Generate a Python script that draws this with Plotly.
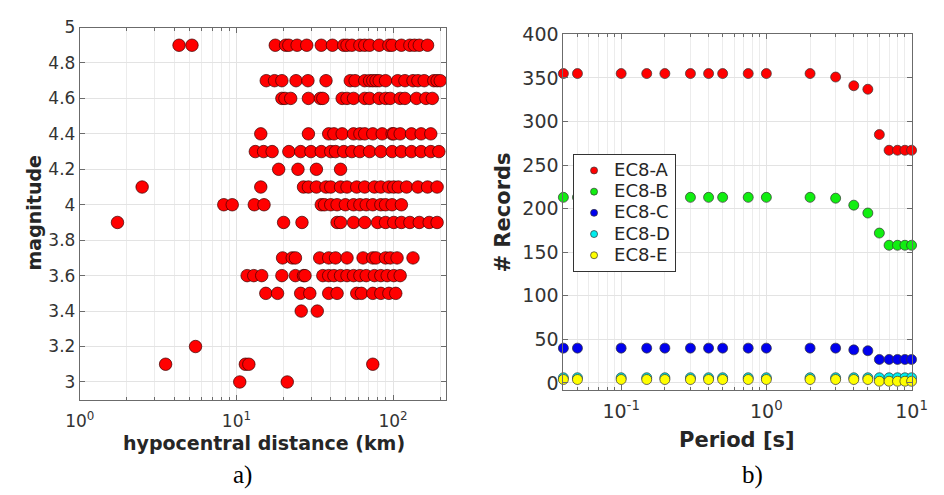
import numpy as np
import plotly.graph_objects as go

# ---------------- panel a) : magnitude vs hypocentral distance ----------------
# hypocentral distances (km) grouped by event magnitude
dist_m49 = [4.3, 5.2, 17.7, 20.6, 21.6, 24.4, 28.1, 34.8, 41.0, 48.4, 50.8, 54.5,
            61.4, 65.9, 70.8, 81.5, 94.0, 98.6, 113, 128, 137, 147, 166]
dist_m47 = [15.5, 17.5, 19.5, 24.0, 28.6, 37.3, 53.3, 57.2, 65.9, 70.8, 74.2, 77.8,
            81.5, 89.5, 107, 119, 134, 144, 158, 182, 191, 200]
dist_m46 = [19.5, 20.4, 22.2, 28.8, 34.3, 35.6, 47.3, 50.8, 55.9, 65.9, 70.8, 81.5,
            89.5, 95.9, 111, 119, 141, 162, 178]
dist_m44 = [14.3, 28.8, 38.8, 41.9, 47.3, 55.9, 61.4, 65.9, 74.2, 85.2, 98.6, 101,
            111, 131, 151, 174]
dist_m43 = [13.2, 14.9, 16.9, 21.6, 25.7, 29.9, 34.8, 40.0, 42.9, 48.4, 54.5, 61.4,
            70.8, 83.5, 98.6, 113, 131, 151, 174, 196]
dist_m42 = [18.6, 24.7, 32.4, 46.2]
dist_m41 = [2.5, 14.3, 26.8, 28.8, 32.4, 37.3, 40.0, 46.2, 50.8, 58.6, 65.9, 76.0,
            83.5, 94.0, 101, 108, 122, 144, 166, 191]
dist_m40 = [8.3, 9.4, 13.0, 15.0, 34.8, 36.5, 40.0, 43.9, 49.6, 55.9, 61.4, 67.4,
            74.2, 83.5, 89.5, 98.6, 113]
dist_m39 = [1.74, 20.0, 26.2, 43.9, 46.2, 55.9, 65.9, 79.6, 89.5, 101, 113, 128,
            147, 170, 191]
dist_m37 = [19.7, 22.7, 23.8, 34.0, 38.8, 42.9, 50.8, 64.3, 74.2, 77.8, 89.5, 96.0,
            106, 134]
dist_m36 = [11.7, 12.9, 14.5, 19.5, 23.8, 26.8, 27.4, 35.6, 38.8, 41.9, 46.2, 50.8,
            55.9, 61.4, 67.4, 76.0, 83.5, 91.7, 101, 111]
dist_m35 = [15.4, 18.3, 25.7, 29.4, 38.8, 43.9, 58.6, 62.8, 74.2, 83.5, 94.0, 104]
dist_m34 = [25.9, 32.8]
dist_m32 = [5.48]
dist_m31 = [3.53, 11.4, 12.0, 74.2]
dist_m30 = [10.5, 21.1]

mag_rows = [
    (4.9, dist_m49), (4.7, dist_m47), (4.6, dist_m46), (4.4, dist_m44),
    (4.3, dist_m43), (4.2, dist_m42), (4.1, dist_m41), (4.0, dist_m40),
    (3.9, dist_m39), (3.7, dist_m37), (3.6, dist_m36), (3.5, dist_m35),
    (3.4, dist_m34), (3.2, dist_m32), (3.1, dist_m31), (3.0, dist_m30),
]
distance = [d for m, ds in mag_rows for d in ds]
magnitude = [m for m, ds in mag_rows for d in ds]

mag_ticks = [3, 3.2, 3.4, 3.6, 3.8, 4, 4.2, 4.4, 4.6, 4.8, 5]
mag_ticktext = ["3", "3.2", "3.4", "3.6", "3.8", "4", "4.2", "4.4", "4.6", "4.8", "5"]

# ---------------- panel b) : number of records per period ----------------
period = [0.04, 0.05, 0.1, 0.15, 0.2, 0.3, 0.4, 0.5, 0.75, 1, 2, 3, 4, 5, 6, 7, 8, 9, 10]
rec_A = [355, 355, 355, 355, 355, 355, 355, 355, 355, 355, 355, 351, 341, 337, 285, 267, 267, 267, 267]
rec_B = [213, 213, 213, 213, 213, 213, 213, 213, 213, 213, 213, 212, 204, 195, 172, 158, 158, 158, 158]
rec_C = [40, 40, 40, 40, 40, 40, 40, 40, 40, 40, 40, 40, 38, 37, 27, 27, 27, 27, 27]
rec_D = [6, 6, 6, 6, 6, 6, 6, 6, 6, 6, 6, 6, 6, 6, 6, 6, 6, 6, 6]
rec_E = [4, 4, 4, 4, 4, 4, 4, 4, 4, 4, 4, 4, 4, 4, 2, 2, 2, 2, 2]
site_names = ["EC8-A", "EC8-B", "EC8-C", "EC8-D", "EC8-E"]
site_colors = ["#ff0000", "#11ee11", "#0000ee", "#00eeee", "#ffff00"]
site_records = [rec_A, rec_B, rec_C, rec_D, rec_E]

rec_ticks = [0, 50, 100, 150, 200, 250, 300, 350, 400]

# ---------------- styling ----------------
W, H = 944, 495
TICK_A = dict(family="DejaVu Sans", size=17, color="#333333")
TICK_B = dict(family="DejaVu Sans", size=19, color="#333333")
TITLE_A = dict(family="DejaVu Sans", size=19, color="#262626")
TITLE_B = dict(family="DejaVu Sans", size=21, color="#262626")
GRID = "#e3e3e3"
AXLINE = "#6b6b6b"


def minor_logvals(lo_exp, hi_exp):
    vals = []
    for e in range(lo_exp, hi_exp + 1):
        for k in range(2, 10):
            vals.append(k * 10.0 ** e)
    return vals


fig = go.Figure()

fig.add_trace(go.Scatter(
    x=distance, y=magnitude, mode="markers", xaxis="x", yaxis="y",
    marker=dict(size=12.5, color="#ff0000", line=dict(color="#3a0000", width=0.7)),
    showlegend=False, cliponaxis=False,
))

for name, col, rec in zip(site_names, site_colors, site_records):
    fig.add_trace(go.Scatter(
        x=period, y=rec, mode="markers", xaxis="x2", yaxis="y2",
        marker=dict(size=10, color=col, line=dict(color="#333333", width=0.7)),
        showlegend=False, cliponaxis=False, name=name,
    ))
# legend entries: smaller symbols, compact rows with larger label text
for name, col in zip(site_names, site_colors):
    fig.add_trace(go.Scatter(
        x=[None], y=[None], mode="markers", xaxis="x2", yaxis="y2",
        marker=dict(size=7, color=col, line=dict(color="#333333", width=0.7)),
        name=f'<span style="font-size:18px">{name}</span>', showlegend=True,
    ))

common_axis = dict(
    showline=True, linecolor=AXLINE, linewidth=1, mirror="allticks",
    ticks="inside", ticklen=5, tickcolor=AXLINE, showgrid=True,
    gridcolor=GRID, gridwidth=1, zeroline=False,
)

fig.update_layout(
    width=W, height=H,
    margin=dict(l=0, r=0, t=0, b=0),
    paper_bgcolor="white", plot_bgcolor="white",
    xaxis=dict(
        common_axis, type="log", domain=[67 / W, 446 / W], range=[0, 2.34],
        anchor="y", tickvals=[1, 10, 100], tickfont=TICK_A, ticklabelstandoff=6,
        ticktext=["10<sup>0</sup>", "10<sup>1</sup>", "10<sup>2</sup>"],
        minor=dict(tickvals=minor_logvals(0, 2), ticks="inside", ticklen=3,
                   tickcolor=AXLINE, showgrid=True, gridcolor="#ececec"),
    ),
    yaxis=dict(
        common_axis, domain=[95 / H, 478 / H], range=[2.9, 5], anchor="x",
        tickvals=mag_ticks, ticktext=mag_ticktext, tickfont=TICK_A,
    ),
    xaxis2=dict(
        common_axis, type="log", domain=[567 / W, 927 / W],
        range=[np.log10(0.04), 1], anchor="y2", tickvals=[0.1, 1, 10],
        tickfont=TICK_B, ticklabelstandoff=4,
        ticktext=["10<sup>-1</sup>", "10<sup>0</sup>", "10<sup>1</sup>"],
        minor=dict(tickvals=minor_logvals(-2, 0), ticks="inside", ticklen=3,
                   tickcolor=AXLINE, showgrid=True, gridcolor="#ececec"),
    ),
    yaxis2=dict(
        common_axis, domain=[105 / H, 471 / H], range=[-8, 400], anchor="x2",
        tickvals=rec_ticks, tickfont=TICK_B,
    ),
    legend=dict(
        x=577 / W, y=1 - 147 / H, xanchor="left", yanchor="top",
        bgcolor="white", bordercolor="#333333", borderwidth=1,
        font=dict(family="DejaVu Sans", size=14, color="#262626"),
        itemwidth=30, tracegroupgap=0,
    ),
)

annotations = [
    dict(text="<b>magnitude</b>", x=20 / W, y=1 - 208 / H, textangle=-90,
         font=TITLE_A),
    dict(text="<b>hypocentral distance (km)</b>", x=257 / W, y=1 - 445 / H,
         font=TITLE_A),
    dict(text="<b># Records</b>", x=505 / W, y=1 - 207 / H, textangle=-90,
         font=TITLE_B),
    dict(text="<b>Period [s]</b>", x=747 / W, y=1 - 442 / H, font=TITLE_B),
    dict(text="a)", x=235 / W, y=1 - 478 / H,
         font=dict(family="Liberation Serif", size=25, color="black")),
    dict(text="b)", x=763 / W, y=1 - 478 / H,
         font=dict(family="Liberation Serif", size=25, color="black")),
]
for a in annotations:
    a.update(xref="paper", yref="paper", showarrow=False,
             xanchor="center", yanchor="middle")
fig.update_layout(annotations=annotations)

fig.write_html("out.html")
